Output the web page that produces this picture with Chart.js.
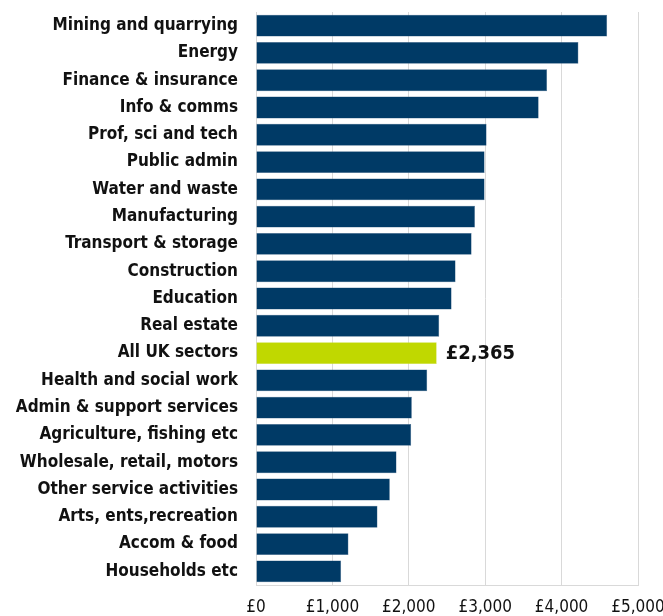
<!DOCTYPE html>
<html>
<head>
<meta charset="utf-8">
<script src="https://cdn.jsdelivr.net/npm/chart.js@4/dist/chart.umd.min.js"></script>
<style>
  html, body { margin: 0; padding: 0; background: #fff; }
  #wrap { width: 663px; height: 616px; position: relative; }
</style>
</head>
<body>
<div id="wrap"><canvas id="pay-chart"></canvas></div>
<script>
const sectors = [
  "Mining and quarrying", "Energy", "Finance & insurance", "Info & comms",
  "Prof, sci and tech", "Public admin", "Water and waste", "Manufacturing",
  "Transport & storage", "Construction", "Education", "Real estate",
  "All UK sectors", "Health and social work", "Admin & support services",
  "Agriculture, fishing etc", "Wholesale, retail, motors", "Other service activities",
  "Arts, ents,recreation", "Accom & food", "Households etc"
];
const medianPay = [
  4596, 4220, 3810, 3700,
  3018, 2992, 2992, 2866,
  2822, 2612, 2560, 2398,
  2365, 2241, 2040,
  2031, 1839, 1752,
  1590, 1210, 1114
];
const highlightSector = "All UK sectors";
const xTicks = [0, 1000, 2000, 3000, 4000, 5000];

const FONT = "'DejaVu Sans Condensed', 'DejaVu Sans', sans-serif";
const money = v => "£" + v.toLocaleString("en-GB");

// draws the value next to the highlighted bar
const highlightLabel = {
  id: "highlightLabel",
  afterDatasetsDraw(chart) {
    const idx = sectors.indexOf(highlightSector);
    const bar = chart.getDatasetMeta(0).data[idx];
    const ctx = chart.ctx;
    ctx.save();
    ctx.font = "bold 20px " + FONT;
    ctx.fillStyle = "#111";
    ctx.textAlign = "left";
    ctx.textBaseline = "middle";
    ctx.fillText(money(medianPay[idx]), bar.x + 9, bar.y + 1);
    ctx.restore();
  }
};

new Chart(document.getElementById("pay-chart").getContext("2d"), {
  type: "bar",
  data: {
    labels: sectors,
    datasets: [{
      data: medianPay,
      backgroundColor: sectors.map(s => s === highlightSector ? "#c0d800" : "#003a66"),
      borderColor: sectors.map(s => s === highlightSector ? "#c8dc33" : "#3d6388"),
      borderWidth: 0.5,
      barPercentage: 0.8,
      categoryPercentage: 1
    }]
  },
  options: {
    indexAxis: "y",
    responsive: true,
    maintainAspectRatio: false,
    animation: false,
    layout: { padding: { top: 12, right: 0, bottom: 0, left: 0 } },
    plugins: {
      legend: { display: false },
      tooltip: { enabled: false }
    },
    scales: {
      x: {
        min: 0,
        max: 5000,
        afterBuildTicks: scale => { scale.ticks = xTicks.map(v => ({ value: v })); },
        afterFit: scale => {
          scale.height = 31;
          scale.paddingLeft = 0;
          scale.paddingRight = 25;
        },
        ticks: {
          callback: v => money(v),
          color: "#111",
          padding: 12,
          maxRotation: 0,
          font: { family: FONT, size: 17 }
        },
        grid: { color: "#d9d9d9", lineWidth: 1, drawTicks: false },
        border: { color: "#d9d9d9" }
      },
      y: {
        afterFit: scale => {
          scale.width = 256;
          scale.paddingTop = 0;
          scale.paddingBottom = 0;
        },
        ticks: {
          color: "#111",
          padding: 18,
          autoSkip: false,
          font: { family: FONT, size: 17, weight: "bold" }
        },
        grid: { display: false, drawTicks: false },
        border: { color: "#d9d9d9" }
      }
    }
  },
  plugins: [highlightLabel]
});
</script>
</body>
</html>
